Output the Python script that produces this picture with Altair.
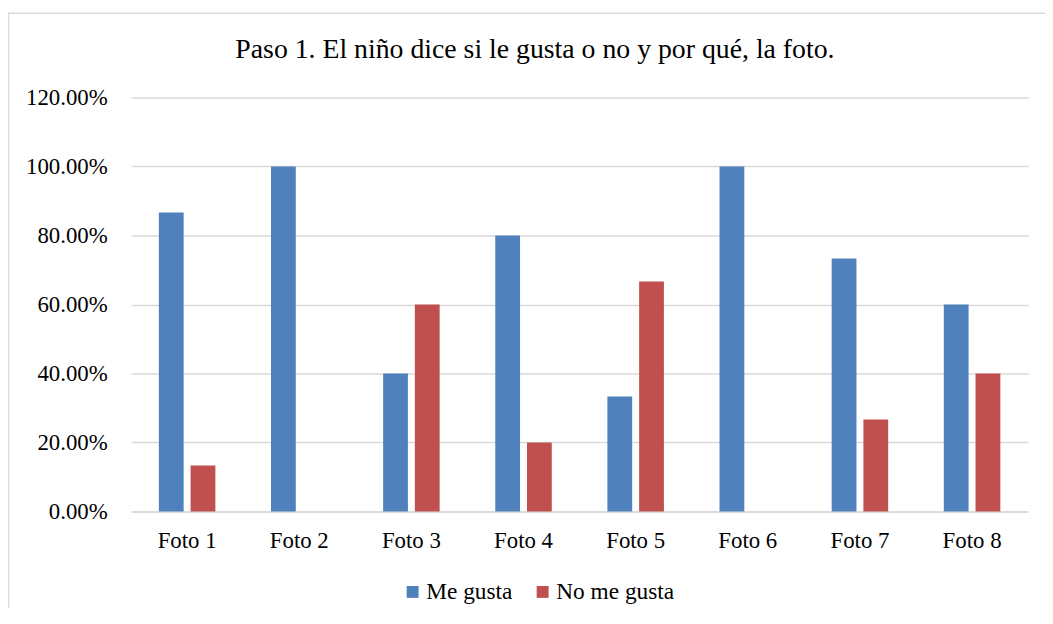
import altair as alt
import pandas as pd

categories = ["Foto 1", "Foto 2", "Foto 3", "Foto 4", "Foto 5", "Foto 6", "Foto 7", "Foto 8"]
me_gusta = [0.8667, 1.0, 0.40, 0.80, 0.3333, 1.0, 0.7333, 0.60]
no_me_gusta = [0.1333, 0.0, 0.60, 0.20, 0.6667, 0.0, 0.2667, 0.40]
series = ["Me gusta", "No me gusta"]
colors = ["#4F81BD", "#C0504D"]
y_ticks = [0.0, 0.2, 0.4, 0.6, 0.8, 1.0, 1.2]
title_text = "Paso 1. El niño dice si le gusta o no y por qué, la foto."

rows = []
for c, a, b in zip(categories, me_gusta, no_me_gusta):
    rows.append({"Foto": c, "Serie": series[0], "Valor": a})
    rows.append({"Foto": c, "Serie": series[1], "Valor": b})
df = pd.DataFrame(rows)

FONT = "Liberation Serif"
GRID = "#D9D9D9"

bars = alt.Chart(df).mark_bar().encode(
    x=alt.X("Foto:N", sort=categories,
            scale=alt.Scale(paddingInner=0.496, paddingOuter=0.248),
            axis=alt.Axis(title=None, labelAngle=0, labelFont=FONT, labelFontSize=23,
                          labelColor="#000000", ticks=False, domainColor=GRID,
                          domainWidth=1.5, labelPadding=18)),
    xOffset=alt.XOffset("Serie:N", sort=series,
                        scale=alt.Scale(paddingInner=0.219, paddingOuter=0)),
    y=alt.Y("Valor:Q", scale=alt.Scale(domain=[0, 1.2], nice=False, zero=True),
            axis=alt.Axis(title=None, values=y_ticks, format=".2%", labelFont=FONT,
                          labelFontSize=23, labelColor="#000000", ticks=False,
                          domain=False, gridColor=GRID, gridWidth=1.5, labelPadding=24)),
    color=alt.Color("Serie:N", scale=alt.Scale(domain=series, range=colors),
                    legend=alt.Legend(title=None, orient="none", legendX=272, legendY=486,
                                      direction="horizontal", symbolType="square",
                                      symbolSize=144, symbolStrokeWidth=0,
                                      labelFont=FONT, labelFontSize=23.5, labelColor="#000000",
                                      labelOffset=2, columnPadding=18)),
)

frame = alt.Chart(pd.DataFrame({"k": [0]})).mark_rect(
    filled=False, stroke=GRID, strokeWidth=1.5
).encode(
    x=alt.value(-123.5), x2=alt.value(940), y=alt.value(-85), y2=alt.value(540)
)

title = alt.Chart(pd.DataFrame({"t": [title_text]})).mark_text(
    font=FONT, fontSize=28, color="#000000", align="center", baseline="middle"
).encode(
    text="t:N", x=alt.value(407), y=alt.value(-48)
)

chart = alt.layer(frame, bars, title).properties(
    width=904, height=417,
    autosize=alt.AutoSizeParams(type="none"),
    padding={"left": 124, "top": 88, "right": 17, "bottom": 95},
).configure_view(stroke=None)

chart.save("out.html", embed_options={"renderer": "svg", "actions": False})
